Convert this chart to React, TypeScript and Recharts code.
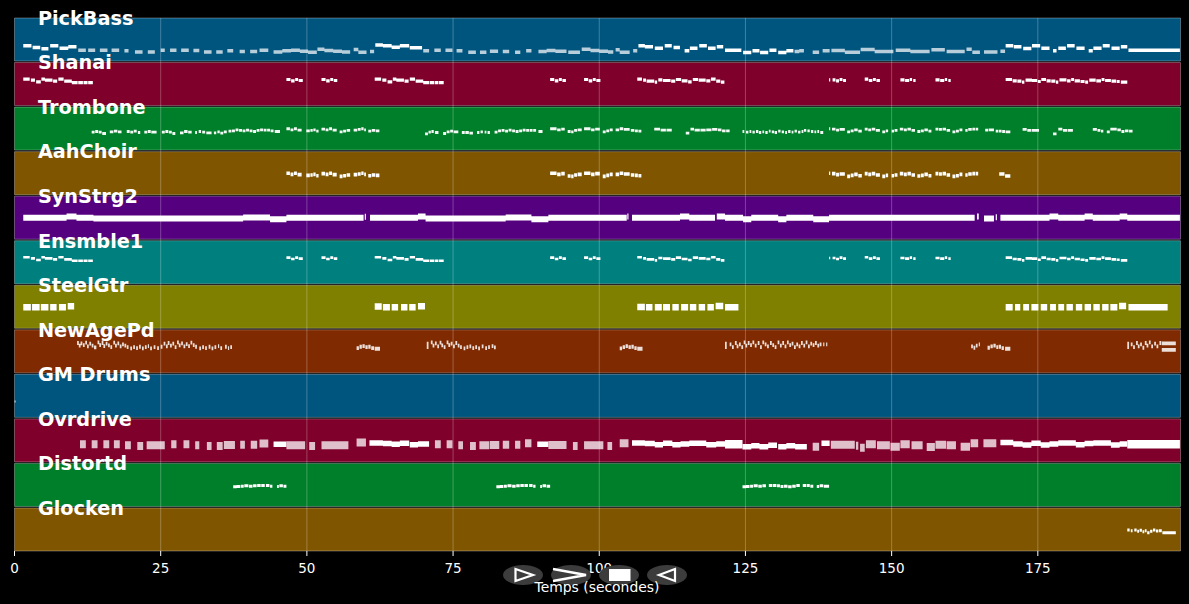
import { ComposedChart, Line, XAxis, YAxis, ReferenceArea, ReferenceLine, ReferenceDot } from 'recharts';

type Note = number[]; // start (s), end (s), midi pitch

const trackNames = ['PickBass', 'Shanai', 'Trombone', 'AahChoir', 'SynStrg2', 'Ensmble1', 'SteelGtr', 'NewAgePd', 'GM Drums', 'Ovrdrive', 'Distortd', 'Glocken'];
const bandColors = ['#00557f', '#7f002a', '#007f2a', '#7f5500', '#55007f', '#007f7f', '#7f7f00', '#7f2a00', '#00557f', '#7f002a', '#007f2a', '#7f5500'];
const xTicks = [0, 25, 50, 75, 100, 125, 150, 175];

const bassLoud: Note[] = [
  [1.5,2.9,45],[3.1,4.4,40],[4.6,5.8,36],[6.1,7.5,45],[7.7,9.2,38],[9.2,10.6,42],
  [61.7,63,47],[63,64.5,45],[64.5,65.9,41],[65.9,67.5,45],[67.6,69.7,39],
  [106.7,107.8,45],[107.8,109.2,42],[109.5,110.9,38],[111.2,112.4,45],[112.7,113.8,40],[114.6,115.4,30],[115.5,116.8,38],[117.1,118.4,45],[118.6,119.9,38],[120.1,121.2,42],[121.5,124.3,32],[124.6,126,25],[126.2,127.4,30],[127.5,128.9,25],[129.1,130.3,32],[130.6,132,25],[132,133.2,30],
  [169.5,170.8,45],[170.9,172.2,42],[172.5,173.9,37],[174,175.4,45],[175.6,177,38],[177.6,178.2,30],[178.5,179.8,38],[180,181.3,45],[181.6,183,38],[183.7,184.4,30],[184.5,185.9,38],[186.1,187.3,45],[187.6,189,38],[189.2,190.3,42],[190.5,199.3,32],
];
const bassSoft: Note[] = [
  [10.9,12.2,32],[12.6,13.8,32],[14.6,15.9,32],[16.6,17.9,32],[18.8,19.5,30],[20.6,21.9,27],[22.8,24,27],[25,25.7,32],[26.6,27.7,32],[28.5,29.8,32],[30.6,31.6,31],[32.4,33.7,27],[34.5,35.6,27],[36.4,37.4,30],[38.5,39.4,28],[40.3,41.5,28],[41.9,43.4,32],[44.3,45.8,27],[45.8,47.3,30],[47.3,48.8,32],[48.8,50.2,29],[50.2,51.7,26],[51.8,53,35],[53,54.5,31],[54.5,56,29],[56,57.4,27],[58,58.8,34],[58.8,60.2,26],[60.8,61.5,28],
  [69.9,70.9,30],[71.8,72.9,32],[73.7,74.9,32],[75.6,76.6,30],[77.6,78.9,26],[79.6,80.7,26],[81.3,82.7,29],[83.5,84.6,28],[85.6,86.5,26],[87.5,88.4,30],[89.6,91,28],[91,92.5,31],[92.5,94.4,29],[94.7,96.7,26],[97,98.5,35],[98.5,100,31],[100,101.5,29],[101.5,102.4,27],[102.8,103.5,33],[103.5,105.2,26],[105.8,106.5,30],
  [133.4,134.2,28],[134.2,135,30],[136.5,137.6,26],[138.2,139.4,30],[139.7,142,31],[142,144.6,26],[144.7,147.1,34],[147.1,150.3,28],[150.7,153.2,32],[153.2,156.5,28],[156.8,159.1,33],[159.4,162.5,28],[162.8,163.7,35],[163.8,165.1,26],[165.8,168.1,27],[168.6,169.4,29],
];

// shanai and the ensemble strings double the same line
const melody: Note[] = [
  [1.5,2.6,78],[2.8,3.5,75],[3.7,4.5,70],[4.6,5.2,78],[5.2,6.5,75],[6.6,7.3,72],[7.5,8.4,78],[8.5,9.8,72],[9.8,10.8,68],[10.9,11.7,68],[11.8,12.5,68],[12.6,13.4,68],
  [46.5,47.2,77],[47.3,47.9,73],[48,48.5,77],[48.6,49.3,74],
  [52.5,53.2,77],[53.3,53.9,73],[54,54.5,77],[54.6,55.2,74],
  [61.6,62.7,78],[62.9,63.6,75],[63.8,64.6,70],[64.7,65.3,78],[65.3,66.6,75],[66.7,67.4,72],[67.6,68.5,78],[68.6,69.9,72],[69.9,70.9,68],[71,71.8,68],[71.9,72.5,68],[72.6,73.4,68],
  [91.6,92.3,77],[92.4,93,73],[93.1,93.6,77],[93.7,94.3,74],
  [97.4,98.1,77],[98.2,98.8,73],[98.9,99.4,77],[99.5,100.2,74],
  [106.5,107.3,78],[107.5,108,75],[108.1,109.4,72],[109.5,109.9,69],[110.1,110.8,76],[110.9,112.2,74],[112.3,113,72],[113.1,114,77],[114.1,115.1,73],[115.2,115.8,70],[116,116.9,77],[117,118.2,75],[118.3,119,73],[119.1,119.9,78],[120,120.7,72],[120.8,121.4,69],
  [139.3,139.5,76],[139.9,140.4,76],[140.5,141,73],[141.1,141.6,77],[141.7,142.2,74],
  [145.4,146,78],[146.1,146.7,74],[146.8,147.3,77],[147.4,148,74],
  [151.5,152.2,76],[152.3,153,74],[153.1,153.5,77],[153.7,154.1,74],
  [157.5,158.2,76],[158.3,159,74],[159.1,159.5,77],[159.7,160.1,74],
  [169.5,170.6,77],[170.7,171.4,73],[171.5,172.2,72],[172.3,172.7,69],[172.9,174,75],[174,174.9,74],[175,175.5,71],[175.6,176.4,77],[176.5,177.2,73],[177.3,178,72],[178.1,178.5,69],[178.7,179.9,76],[180,180.6,73],[180.7,181.2,77],[181.3,182.2,73],[182.3,183,71],[183.1,183.6,69],[183.8,184.9,75],[185,185.8,73],[185.9,186.4,77],[186.5,187.5,74],[187.6,188.4,72],[188.5,189,71],[189.2,190.3,69],
];

// trombone and choir play these together
const hornsA: Note[] = [
  [46.5,47.1,63],[47.2,47.7,60],[47.8,48.3,63],[48.4,49.1,59],[49.9,50.5,57],[50.6,51,58],[51.1,51.5,60],[51.6,52,56],[52.5,53.1,62],[53.2,53.7,60],[53.8,54.3,63],[54.4,55.1,59],[55.6,56.1,54],[56.2,56.7,56],[56.8,57.4,58],[58,58.6,59],[58.7,59.2,61],[59.3,59.7,63],[59.8,60.1,60],[60.5,61,56],[61.1,61.7,58],[61.8,62.4,57],
];
const hornsB: Note[] = [
  [91.6,92.7,63],[92.8,93.4,60],[93.5,94.1,62],[94.6,95.1,55],[95.2,95.6,54],[95.7,96.2,58],[96.3,97,60],[97.4,98.5,63],[98.6,99.2,60],[99.3,100.1,62],[100.6,101.1,54],[101.2,101.7,57],[101.8,102.3,60],[102.8,103.4,60],[103.5,104.1,63],[104.2,105.2,61],[105.4,106,58],[106.1,106.6,57],[106.7,107.2,56],
];
const hornsC: Note[] = [
  [139.3,139.5,63],[139.8,140.4,62],[140.5,141,59],[141.1,142,61],[142.4,142.9,54],[143,143.5,57],[143.6,144.2,60],[144.3,144.9,56],[145.4,145.9,62],[146,146.5,60],[146.6,147.2,62],[147.3,148,58],[148.4,148.9,54],[149,149.4,57],[150,150.4,56],[150.5,151,58],[151.4,152,62],[152.1,152.6,60],[152.7,153.3,62],[153.4,154,58],[154.4,154.9,55],[155,155.5,57],[155.6,156.2,60],[156.3,156.8,56],[157.5,158,62],[158.1,158.6,61],[158.7,159.3,62],[159.4,160,58],[160.4,160.9,54],[161,161.5,56],[161.6,162.1,60],[162.6,163,58],[163.1,163.7,61],[163.8,164.3,62],[164.4,164.8,62],
];
const tromboneOnly: Note[] = [
  [13.2,13.7,53],[13.8,14.3,55],[14.4,14.9,53],[15,15.65,49],[16.3,16.9,54],[17,17.6,56],[17.7,18.3,54],[19.2,19.7,55],[19.8,20.3,53],[20.4,20.9,56],[21.1,21.5,52],[22.2,22.7,53],[22.8,23.3,55],[23.4,24.3,53],[25.2,25.7,53],[25.8,26.3,55],[26.4,26.9,53],[27,27.5,49],[28.3,28.9,51],[29,29.6,55],[29.7,30.3,53],[30.9,31.2,52],[31.5,31.9,55],[32.1,32.6,53],[32.8,33.7,51],[34.1,34.5,51],[34.7,35.1,54],[35.2,35.7,50],[35.8,36.3,54],[36.6,37.1,56],[37.2,37.7,57],[37.8,38.3,60],[38.4,38.9,58],[39,39.5,57],[39.6,40.1,59],[40.2,40.7,57],[40.8,41.3,55],[41.4,41.9,58],[42,42.5,60],[42.6,43.1,59],[43.2,43.7,59],[43.8,44.3,57],[44.5,45.4,55],
  [70.2,70.7,48],[70.8,71.2,53],[71.3,71.7,55],[71.9,72.5,52],[73.3,73.8,49],[73.9,74.4,54],[74.5,75,56],[75.1,75.9,54],[76.5,77,52],[77.1,77.7,52],[77.8,78.4,50],[79.1,79.5,52],[79.7,80.1,54],[80.4,80.7,53],[80.9,81.3,52],[82.1,82.6,53],[82.7,83.2,57],[83.3,83.8,58],[83.9,84.4,56],[84.5,85,59],[85.1,85.6,57],[85.7,86.2,55],[86.3,86.8,57],[86.9,87.4,59],[87.5,88,58],[88.1,88.6,58],[88.7,89.2,58],[89.6,90.3,55],
  [109.4,110.4,62],[110.5,111.4,59],[111.5,112.4,59],[114.8,115.4,50],[115.6,116.2,62],[116.3,117.2,59],[117.3,118.2,59],[118.3,119.2,60],[119.3,120.2,61],[120.3,120.9,60],[121,121.6,57],[121.7,122.3,57],
  [124.5,124.8,55],[125.1,125.5,53],[125.7,126,55],[126.2,126.6,53],[126.8,127.2,55],[127.3,127.7,52],[127.9,128.2,54],[128.4,128.8,52],[129,129.3,56],[129.5,129.9,54],[130,130.4,52],[130.6,131,56],[131.2,131.6,54],[131.8,132.1,52],[132.3,132.7,55],[132.9,133.2,53],[133.4,133.8,56],[134,134.4,53],[134.6,134.9,55],[135,135.4,58],[135.6,136,57],[136.2,136.6,55],[136.8,137.1,54],[137.3,137.6,55],[137.8,138.3,52],
  [166,166.5,59],[166.6,167.5,60],[167.8,168.2,56],[168.3,168.8,56],[168.9,169.4,55],[169.5,170.3,54],[172.4,173.1,61],[173.2,173.9,58],[174,175.2,58],[177.6,178.2,48],[178.5,179.2,62],[179.3,180,58],[180.1,181,58],[184.4,185.1,61],[185.2,185.7,58],[185.8,186.2,56],[186.8,187.3,54],[187.4,188.5,62],[188.6,189.2,60],[189.3,189.8,55],[189.9,190.5,57],[190.6,191.2,56],
];
const choirOnly: Note[] = [[168.4,169.3,61],[169.4,170.3,55]];

const synthPad: Note[] = [
  [1.5,8.9,63],[8.9,10.6,67],[10.6,13.5,63],[13.5,39.1,61],[39.1,43.7,64],[43.7,46.5,59],[46.5,59.7,63],[59.9,60.1,66],[60.8,69,63],[69,70.3,67],[70.3,84,61],[84,88.4,64],[88.4,91.3,59],[91.3,104.7,63],[104.8,105,67],[105.6,113.8,63],[113.8,115.4,67],[115.4,119.8,63],[120.1,121.5,67],[121.5,124.6,63],[124.6,126,59],[126,130.6,63],[130.6,132,59],[132,136.6,63],[136.6,139.3,59],[139.3,164.2,63],[164.6,164.9,67],[165.8,167.5,61],[167.8,168,65],[168.6,177,63],[177,178.5,67],[178.5,183,63],[183,184.4,67],[184.4,189,63],[189,190.3,67],[190.3,199.3,63],
];

const steelGtr: Note[] = [
  [1.5,2.8,62],[3,4.3,62],[4.5,5.8,62],[6.1,7.2,62],[7.6,8.8,62],[9.1,10.2,65],
  [61.6,62.8,64],[63,64.2,62],[64.5,65.6,62],[66.1,67.2,62],[67.5,68.6,62],[69,70.2,65],
  [106.5,107.8,63],[108,109.1,62],[109.5,110.7,62],[110.9,112.1,62],[112.5,113.6,62],[114,115.2,62],[115.5,116.6,62],[117,118.1,62],[118.5,119.6,62],[119.9,121.2,66],[121.5,123.8,62],
  [169.5,170.7,62],[171.1,172,62],[172.5,173.5,62],[173.9,175.1,62],[175.5,176.6,62],[177.1,178.1,62],[178.5,179.5,62],[179.9,181,62],[181.5,182.6,62],[183,184.1,62],[184.5,185.6,62],[186,187.1,62],[187.4,188.6,62],[188.9,190.1,66],[190.5,197.2,62],
];

const newAgePad: Note[] = [
  [10.7,11,88],[11,11.3,80],[11.3,11.6,87],[11.7,12,82],[12.1,12.4,89],[12.4,12.7,78],[12.8,13.1,86],[13.2,13.5,80],[13.6,14,75],[14.2,14.5,90],[14.5,14.8,82],[14.9,15.2,88],[15.2,15.5,79],[15.6,15.9,86],[16,16.3,81],[16.4,16.7,76],[16.9,17.2,89],[17.2,17.5,80],[17.6,17.9,87],[18,18.3,78],[18.4,18.7,84],[18.8,19.1,80],[19.2,19.5,76],
  [19.8,20.1,72],[20.3,20.6,76],[20.8,21.1,73],[21.3,21.6,77],[21.8,22.1,72],[22.3,22.6,76],[22.8,23,79],[23.2,23.5,72],[23.8,24.1,76],[24.4,24.7,73],[25,25.3,77],
  [25.5,25.8,86],[25.9,26.2,78],[26.2,26.5,88],[26.6,26.9,80],[27,27.3,86],[27.4,27.7,76],[27.8,28.1,90],[28.1,28.4,81],[28.5,28.8,87],[28.9,29.2,78],[29.3,29.6,85],[29.7,30,79],[30.1,30.4,89],[30.5,30.8,82],[30.9,31.2,77],
  [31.6,31.9,72],[32.1,32.4,76],[32.6,32.9,73],[33.2,33.5,77],[33.7,34,72],[34.2,34.5,76],[34.8,35,79],[35.2,35.5,73],[36,36.3,77],[36.5,36.7,73],[36.9,37.2,76],
  [58.5,58.9,73],[59,59.4,77],[59.5,59.9,79],[60,60.4,76],[60.5,60.9,77],[61,61.5,73],[61.6,62.5,71],
  [70.5,70.8,86],[70.5,70.8,76],[71.2,71.5,90],[71.5,71.8,80],[71.9,72.2,87],[72.3,72.6,78],[72.7,73,89],[73,73.3,81],[73.4,73.7,76],[73.9,74.2,90],[74.2,74.5,82],[74.6,74.9,86],[75,75.3,78],[75.4,75.7,88],[75.8,76.1,80],[76.2,76.5,76],
  [76.8,77.1,72],[77.3,77.6,76],[77.8,78.1,78],[78.3,78.6,73],[78.8,79.1,76],[79.3,79.6,72],[79.9,80.2,78],[80.5,80.8,73],[81,81.3,76],[81.6,81.9,79],[82,82.3,75],
  [103.5,103.9,72],[104,104.4,76],[104.5,104.9,79],[105,105.4,76],[105.5,105.9,77],[106,106.4,73],[106.5,107.4,71],
  [121.5,121.8,86],[121.5,121.8,76],[122.3,122.6,84],[122.7,123,76],[123.2,123.5,88],[123.5,123.8,78],[123.9,124.2,84],[124.3,124.6,76],[124.7,125,90],[125,125.3,80],[125.4,125.7,88],[125.8,126.1,82],[126.2,126.5,90],[126.6,126.9,80],[127.1,127.4,88],[127.5,127.8,76],[127.9,128.2,90],[128.3,128.6,84],[128.7,129,78],[129.2,129.5,88],[129.6,129.9,82],[130,130.3,76],[130.5,130.8,90],[130.9,131.2,80],[131.3,131.6,88],[131.7,132,78],[132.1,132.4,90],[132.5,132.8,82],[132.9,133.2,86],[133.3,133.6,76],[133.7,134,84],[134.1,134.4,78],[134.5,134.8,88],[134.9,135.2,80],[135.3,135.6,90],[135.7,136,78],[136.1,136.4,86],[136.5,136.8,82],[136.9,137.2,88],[137.3,137.6,80],[137.7,138,84],[138.3,138.5,84],[138.8,139,84],
  [163.6,163.9,78],[164,164.3,74],[164.4,164.7,80],[164.9,165.1,84],
  [166.4,166.8,74],[166.9,167.3,78],[167.4,167.8,80],[167.9,168.2,76],[168.3,168.7,77],[168.8,169.2,73],[169.4,170.3,71],
  [190.3,190.6,86],[190.3,190.6,76],[190.9,191.2,84],[191.3,191.6,76],[191.8,192.1,88],[192.1,192.4,78],[192.5,192.8,84],[192.9,193.2,74],[193.3,193.6,88],[193.6,193.9,80],[194,194.3,90],[194.4,194.7,78],[194.9,195.2,86],[195.3,195.6,78],[195.8,196.1,88],[196.2,198.6,87],[196.2,198.6,68],
];

const drums: Note[] = [[0,0.2,47]];

const ovrSoft: Note[] = [
  [11.2,12.2,52],[13.2,14.2,52],[15.2,16.2,52],[17,18,52],[18.9,19.9,49],[21,22,47],[22.6,25.7,49],[26.8,27.7,52],[28.9,29.9,52],[30.9,31.6,49],[32.9,33.7,47],[34.6,35.6,47],[35.8,37.7,50],[38.6,39.4,51],[40.4,41.5,51],[41.9,43.4,54],[46.5,49.7,49],[50.4,51.4,47],[52.5,57.1,49],[58.5,60.1,57],
  [71.9,72.9,52],[73.9,74.9,52],[75.9,76.7,49],[77.9,78.9,47],[79.5,81.2,49],[81.3,82.9,50],[83.5,84.6,51],[85.6,86.5,51],[87.3,88.4,55],[91.3,94.4,50],[95.5,96.3,47],[97.4,100.7,49],[101.4,102.2,47],[103.5,105,55],
  [136.5,137.6,45],[139.6,143.7,51],[143.9,144.3,48],[144.6,145.4,42],[145.6,147.3,52],[147.5,149.7,49],[149.8,151.4,45],[151.5,153.1,52],[153.4,155.3,49],[156,157.4,44],[157.5,159.3,51],[159.4,161,49],[161.8,163.4,45],[163.5,164.8,55],[165.7,167.9,55],
];
const ovrSolid: Note[] = [
  [44.3,46.5,52],[60.7,63,56],[63,64.5,54],[64.5,65.9,52],[65.9,67.5,55],[67.6,69,51],[69,70.9,53],[89.4,91.3,52],
  [105.6,107.8,56],[107.8,109.5,54],[109.5,110.9,51],[110.9,112.5,55],[112.5,113.9,51],[113.9,115.4,53],[115.4,118.3,55],[118.3,120,51],[120,121.5,53],[124.5,126,45],[126,127.4,48],[127.4,128.9,45],[128.9,130.4,49],[130.6,132,45],[132,133.5,48],[133.5,135.5,45],[138,139.4,55],
  [168.6,170.8,57],[170.8,172.4,53],[172.4,173.9,50],[173.9,175.5,55],[175.5,177,50],[177,178.5,53],[178.5,181.5,56],[181.5,183,51],[183,184.5,54],[184.5,187.5,56],[187.5,189,50],[189,190.3,53],
];
const ovrHeavy: Note[] = [[121.5,124.5,52],[190.3,199.3,52]];

const distortion: Note[] = [
  [37.4,38,58],[38,38.6,59],[38.7,39.2,60],[39.3,40,61],[40.1,40.7,60],[40.8,41.4,61],[41.5,42.1,62],[42.2,42.8,62],[43,43.6,62],[43.7,44.1,60],[44.9,45.2,59],[45.3,45.9,61],[46,46.5,60],
  [82.4,83,58],[83,83.6,59],[83.7,84.2,60],[84.3,85,61],[85.1,85.7,60],[85.8,86.4,61],[86.5,87.1,62],[87.2,87.8,62],[88,88.6,62],[88.7,89.1,60],[89.9,90.2,59],[90.3,90.9,61],[91,91.6,60],
  [124.5,125.1,58],[125.1,125.7,59],[125.8,126.3,60],[126.4,127.1,61],[127.2,127.8,60],[127.9,128.5,61],[129,129.6,62],[129.7,130.3,62],[130.4,130.9,61],[131,131.5,59],[131.6,132.2,60],[132.3,132.9,58],[133,133.6,60],[133.7,134.3,62],[134.8,135.4,62],[135.5,136,62],[136.1,136.6,60],[137.2,137.6,59],[137.7,138.3,61],[138.4,139.3,60],
];
const glocken: Note[] = [
  [190.3,190.7,62],[190.9,191.2,60],[191.5,191.9,62],[192,192.3,58],[192.4,192.8,61],[192.9,193.2,57],[193.3,193.6,60],[193.7,194.1,54],[194.2,194.6,58],[194.7,195.1,62],[195.2,195.6,59],[195.7,196.2,60],[196.3,198.6,54],
];

const layers = [
  { track: 0, notes: bassSoft, width: 3.5, opacity: 0.72 },
  { track: 0, notes: bassLoud, width: 3.5, opacity: 1 },
  { track: 1, notes: melody, width: 3.2, opacity: 1 },
  { track: 2, notes: [...tromboneOnly, ...hornsA, ...hornsB, ...hornsC], width: 2.8, opacity: 0.95 },
  { track: 3, notes: [...hornsA, ...hornsB, ...hornsC, ...choirOnly], width: 3.6, opacity: 1 },
  { track: 4, notes: synthPad, width: 6, opacity: 1 },
  { track: 5, notes: melody, width: 2.6, opacity: 1 },
  { track: 6, notes: steelGtr, width: 6.5, opacity: 1 },
  { track: 7, notes: newAgePad, width: 3.8, opacity: 0.85 },
  { track: 8, notes: drums, width: 2, opacity: 0.7 },
  { track: 9, notes: ovrSoft, width: 8, opacity: 0.75 },
  { track: 9, notes: ovrSolid, width: 5.5, opacity: 1 },
  { track: 9, notes: ovrHeavy, width: 8.5, opacity: 1 },
  { track: 10, notes: distortion, width: 3, opacity: 1 },
  { track: 11, notes: glocken, width: 3, opacity: 1 },
];

const BAND = 0.966; // rest of a row is the black gap
const rowBase = (track: number) => 11 - track + (1 - BAND);

// pitch 0-127 fills a band, a null breaks the line between notes
const toLine = (notes: Note[], track: number) =>
  notes.flatMap(([start, end, pitch]) => {
    const y = rowBase(track) + (pitch / 127) * BAND;
    return [{ t: start, y }, { t: end, y }, { t: end, y: null }];
  });

const font = '"DejaVu Sans", sans-serif';

const Controls = () => (
  <svg width={1189} height={604} style={{ position: 'absolute', left: 0, top: 0, pointerEvents: 'none' }}>
    {[523, 571, 619, 667].map((cx) => (
      <ellipse key={cx} cx={cx} cy={575} rx={20} ry={10} fill="#3c3c3c" />
    ))}
    <polygon points="515.5,569 533,575 515.5,581" fill="none" stroke="#fff" strokeWidth={2.2} />
    <polyline points="553,569 586,575 553,581" fill="none" stroke="#fff" strokeWidth={2.4} />
    <rect x={609} y={569} width={21.5} height={12} fill="#fff" />
    <polygon points="675,569 659,575 675,581" fill="none" stroke="#fff" strokeWidth={2.2} />
    <text x={597} y={591.5} textAnchor="middle" fill="#fff" fontSize={13.9} fontFamily={font}>Temps (secondes)</text>
  </svg>
);

export default function App() {
  return (
    <div style={{ position: 'absolute', left: 0, top: 0, width: 1189, height: 604, background: '#000', overflow: 'hidden' }}>
      <ComposedChart width={1189} height={604} margin={{ top: 18, right: 8.5, bottom: 23, left: 14.5 }}>
        <XAxis
          type="number"
          dataKey="t"
          domain={[0, 199.4]}
          ticks={xTicks}
          height={30}
          axisLine={false}
          tickSize={5}
          tickMargin={7}
          tickLine={{ stroke: '#fff' }}
          tick={{ fill: '#fff', fontSize: 13.5, fontFamily: font }}
          allowDuplicatedCategory
        />
        <YAxis hide type="number" domain={[1 - BAND, 12]} />
        {trackNames.map((name, i) => (
          <ReferenceArea
            key={name}
            x1={0}
            x2={199.4}
            y1={rowBase(i)}
            y2={12 - i}
            fill={bandColors[i]}
            fillOpacity={1}
            stroke="#fff"
            strokeOpacity={0.3}
          />
        ))}
        {xTicks.slice(1).map((t) => (
          <ReferenceLine key={t} x={t} stroke="#fff" strokeOpacity={0.25} />
        ))}
        {layers.map((layer, i) => (
          <Line
            key={i}
            data={toLine(layer.notes, layer.track)}
            dataKey="y"
            stroke="#fff"
            strokeOpacity={layer.opacity}
            strokeWidth={layer.width}
            strokeLinecap="butt"
            dot={false}
            activeDot={false}
            legendType="none"
            connectNulls={false}
            isAnimationActive={false}
          />
        ))}
        {trackNames.map((name, i) => (
          <ReferenceDot
            key={name}
            x={4}
            y={12 - i}
            r={0}
            stroke="none"
            label={{ value: name, position: 'right', offset: 0, fill: '#fff', fontSize: 19.3, fontWeight: 'bold', fontFamily: font }}
          />
        ))}
      </ComposedChart>
      <Controls />
    </div>
  );
}
